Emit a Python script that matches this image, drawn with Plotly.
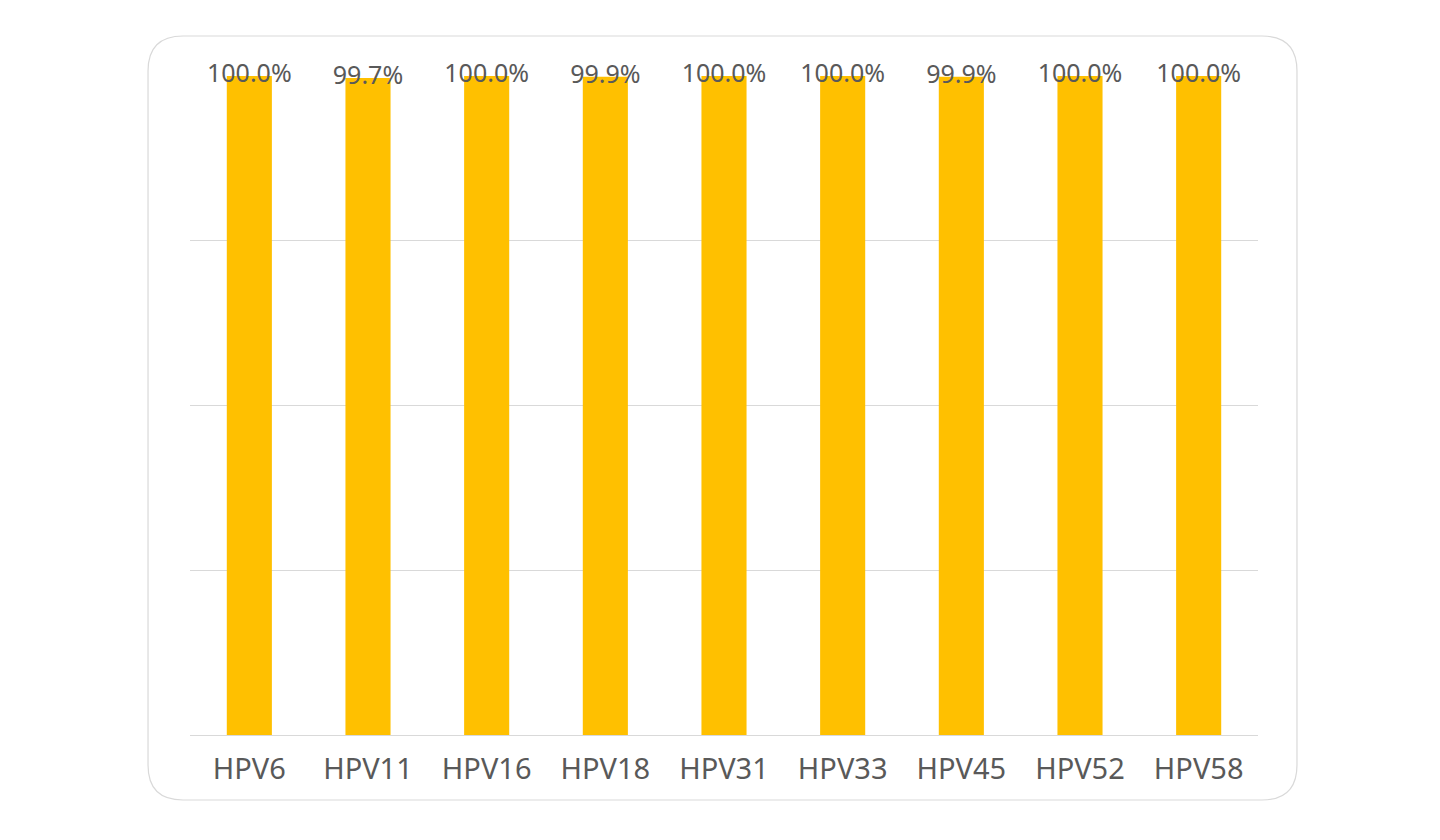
import plotly.graph_objects as go

# HPV types and detection rates
hpv_types = ["HPV6", "HPV11", "HPV16", "HPV18", "HPV31", "HPV33", "HPV45", "HPV52", "HPV58"]
rates = [1.000, 0.997, 1.000, 0.999, 1.000, 1.000, 0.999, 1.000, 1.000]
grid_ticks = [0, 0.25, 0.5, 0.75, 1.0]

label_font = dict(family="Noto Sans", size=25, color="#595959")

fig = go.Figure()
fig.add_trace(go.Bar(x=hpv_types, y=rates, marker=dict(color="#FFC000", line=dict(width=0)),
                     hoverinfo="skip"))
# value labels sit centred on the top of each bar
fig.add_trace(go.Scatter(x=hpv_types, y=rates, mode="text",
                         text=["{:.1%}".format(v) for v in rates],
                         textposition="middle center", textfont=label_font,
                         cliponaxis=False, hoverinfo="skip"))

# rounded outer frame (paper coordinates)
x0, x1, y0, y1 = -0.0393, 1.0365, -0.0986, 1.0607
rx, ry = 0.0328, 0.0531
frame = (f"M {x0+rx} {y1} L {x1-rx} {y1} Q {x1} {y1} {x1} {y1-ry} "
         f"L {x1} {y0+ry} Q {x1} {y0} {x1-rx} {y0} "
         f"L {x0+rx} {y0} Q {x0} {y0} {x0} {y0+ry} "
         f"L {x0} {y1-ry} Q {x0} {y1} {x0+rx} {y1} Z")

fig.update_layout(width=1440, height=840, showlegend=False, bargap=0.62,
                  paper_bgcolor="white", plot_bgcolor="white",
                  margin=dict(l=182, r=190, t=68, b=113, pad=0),
                  shapes=[dict(type="path", path=frame, xref="paper", yref="paper",
                               line=dict(color="#d9d9d9", width=1.2), layer="below")])
fig.update_xaxes(showline=True, linecolor="#d9d9d9", linewidth=1, ticks="",
                 ticklabelstandoff=8,
                 tickfont=dict(family="Noto Sans", size=29, color="#595959"))
fig.update_yaxes(range=[0, 1], tickvals=grid_ticks, showticklabels=False,
                 showgrid=True, gridcolor="#d9d9d9", gridwidth=1, zeroline=False)

fig.write_html("out.html")
